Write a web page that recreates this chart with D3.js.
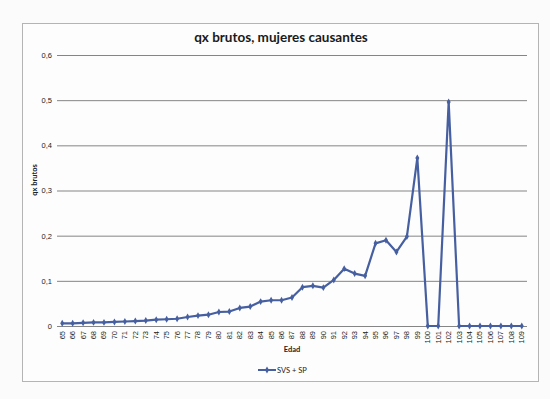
<!DOCTYPE html>
<html>
<head>
<meta charset="utf-8">
<script src="https://cdn.jsdelivr.net/npm/d3@7"></script>
<style>
  body { margin: 0; background: #fbfbfb; }
  svg { display: block; font-family: Lato, "Open Sans", sans-serif; }
</style>
</head>
<body>
<script>
// ages 65..109
const ages = ['65','66','67','68','69','70','71','72','73','74','75','76','77','78','79',
  '80','81','82','83','84','85','86','87','88','89','90','91','92','93','94','95','96',
  '97','98','99','100','101','102','103','104','105','106','107','108','109'];

const qx = [0.006, 0.006, 0.007, 0.008, 0.008, 0.009, 0.010, 0.011, 0.012, 0.014, 0.015,
  0.016, 0.020, 0.023, 0.025, 0.031, 0.032, 0.040, 0.043, 0.054, 0.057, 0.057, 0.063,
  0.086, 0.089, 0.085, 0.102, 0.127, 0.116, 0.111, 0.183, 0.190, 0.164, 0.198, 0.372,
  0, 0, 0.496, 0, 0, 0, 0, 0, 0, 0];

const yTicks = [0, 0.1, 0.2, 0.3, 0.4, 0.5, 0.6];
const seriesName = 'SVS + SP';
const title = 'qx brutos, mujeres causantes';

const width = 550, height = 399;
const margin = { top: 55, right: 20, bottom: 73, left: 57 };
const blue = '#465fa0';

const svg = d3.select('body').append('svg')
  .attr('width', width)
  .attr('height', height);

// chart frame
svg.append('rect')
  .attr('x', 22.5).attr('y', 23.5)
  .attr('width', 516).attr('height', 358)
  .attr('fill', '#fdfdfd')
  .attr('stroke', '#b4b4b4');

const x = d3.scaleBand()
  .domain(ages)
  .range([margin.left, width - margin.right - 3]);

const y = d3.scaleLinear()
  .domain([0, 0.6])
  .range([height - margin.bottom, margin.top]);

const fmt = d => d === 0 ? '0' : d3.format('.1f')(d).replace('.', ',');

// y axis with gridlines
svg.append('g')
  .attr('transform', `translate(${margin.left},0)`)
  .call(d3.axisLeft(y).tickValues(yTicks).tickFormat(fmt)
    .tickSize(-(x.range()[1] - margin.left)).tickPadding(5))
  .call(g => g.select('.domain').remove())
  .call(g => g.selectAll('.tick line').attr('stroke', '#858585'))
  .call(g => g.selectAll('.tick text')
    .attr('font-size', 7.5).attr('fill', '#222'));

// x axis labels
svg.append('g')
  .attr('transform', `translate(0,${y(0)})`)
  .call(d3.axisBottom(x).tickSize(0).tickPadding(0))
  .call(g => g.select('.domain').remove())
  .call(g => g.selectAll('.tick text')
    .attr('font-size', 7.5)
    .attr('fill', '#222')
    .attr('text-anchor', 'end')
    .attr('dy', '0.32em')
    .attr('transform', 'translate(0,5) rotate(-90)'));

// line
const line = d3.line()
  .x((d, i) => x(ages[i]) + x.bandwidth() / 2)
  .y(d => y(d));

svg.append('path')
  .datum(qx)
  .attr('fill', 'none')
  .attr('stroke', blue)
  .attr('stroke-width', 2.2)
  .attr('stroke-linejoin', 'round')
  .attr('d', line);

const diamond = d3.symbol().type(d3.symbolDiamond).size(14);
svg.append('g')
  .selectAll('path')
  .data(qx)
  .join('path')
  .attr('d', diamond)
  .attr('fill', blue)
  .attr('transform', (d, i) => `translate(${x(ages[i]) + x.bandwidth() / 2},${y(d)})`);

// title
svg.append('text')
  .attr('x', 281).attr('y', 42)
  .attr('text-anchor', 'middle')
  .attr('font-size', 13.5)
  .attr('font-weight', 'bold')
  .attr('fill', '#1a1a1a')
  .text(title);

// axis titles
svg.append('text')
  .attr('transform', 'translate(37,180) rotate(-90)')
  .attr('text-anchor', 'middle')
  .attr('font-size', 7.5)
  .attr('font-weight', 'bold')
  .attr('fill', '#222')
  .text('qx brutos');

svg.append('text')
  .attr('x', 292).attr('y', 352)
  .attr('text-anchor', 'middle')
  .attr('font-size', 7.5)
  .attr('font-weight', 'bold')
  .attr('fill', '#222')
  .text('Edad');

// legend
const lg = svg.append('g').attr('transform', 'translate(258,370)');
lg.append('line')
  .attr('x1', 0).attr('x2', 18)
  .attr('stroke', blue).attr('stroke-width', 2);
lg.append('path').attr('d', diamond).attr('fill', blue).attr('transform', 'translate(9,0)');
lg.append('text')
  .attr('x', 19).attr('dy', '0.35em')
  .attr('font-size', 7.5)
  .attr('fill', '#222')
  .text(seriesName);
</script>
</body>
</html>
